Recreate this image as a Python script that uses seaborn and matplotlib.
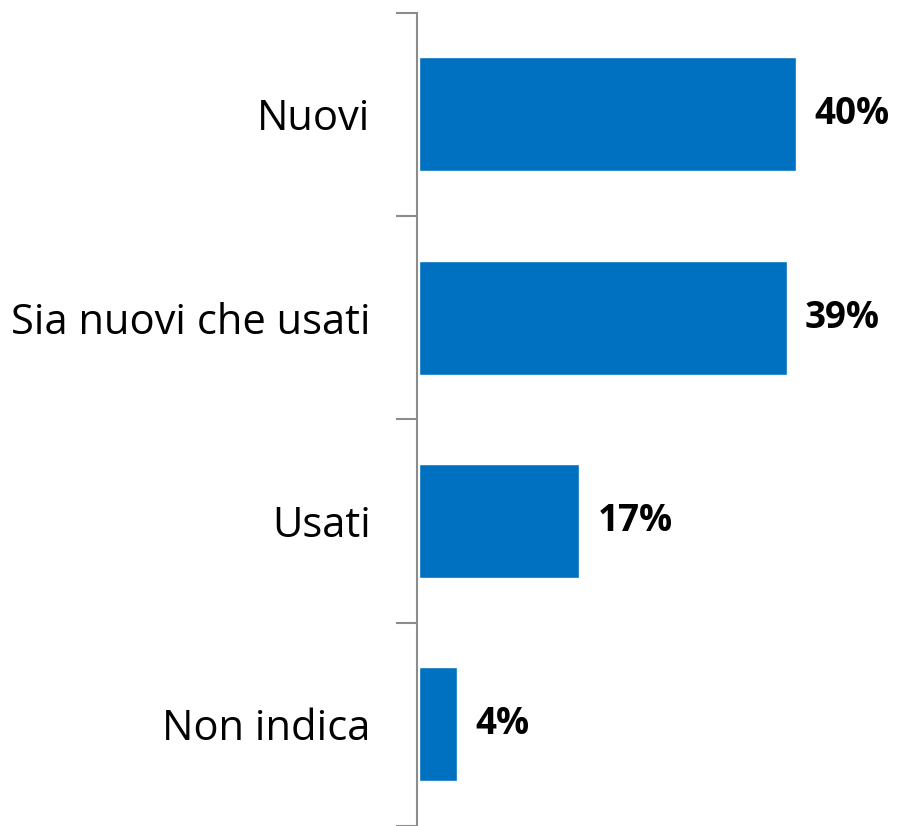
import matplotlib
matplotlib.use("Agg")
import matplotlib.pyplot as plt
import seaborn as sns
import pandas as pd
import numpy as np

categories = ["Nuovi", "Sia nuovi che usati", "Usati", "Non indica"]
values = [40, 39, 17, 4]
labels = ["40%", "39%", "17%", "4%"]

df = pd.DataFrame({"cat": categories, "val": values})

sns.set_style("white")
plt.rcParams["font.family"] = ["Open Sans", "DejaVu Sans"]

fig = plt.figure(figsize=(8.97, 8.26), dpi=100)
ax = fig.add_axes([416.5 / 897, 0, 1 - 416.5 / 897, 1 - 12.5 / 826])

sns.barplot(data=df, x="val", y="cat", orient="h", color="#0070C0",
            saturation=1, width=0.56, ax=ax)

ax.set_xlim(-0.3, 50.7)
ax.set_ylim(3.5, -0.5)

for i, (v, lab) in enumerate(zip(values, labels)):
    ax.text(v + 1.9, i, lab, va="center", ha="left", fontsize=26.5,
            fontweight="bold", color="black")

for s in ["top", "right", "bottom"]:
    ax.spines[s].set_visible(False)
ax.spines["left"].set_color("#8c8c8c")
ax.spines["left"].set_linewidth(1.5)

ax.set_xticks([])
ax.set_yticks(range(len(categories)))
ax.set_yticklabels(categories, fontsize=30, color="black")
ax.tick_params(axis="y", which="major", left=True, length=0, pad=33)
ax.set_yticks(np.arange(-0.5, len(categories), 1.0), minor=True)
ax.tick_params(axis="y", which="minor", left=True, length=15, width=1.5,
               color="#8c8c8c", direction="out")
ax.set_xlabel("")
ax.set_ylabel("")

fig.savefig("out.png", dpi=100)
